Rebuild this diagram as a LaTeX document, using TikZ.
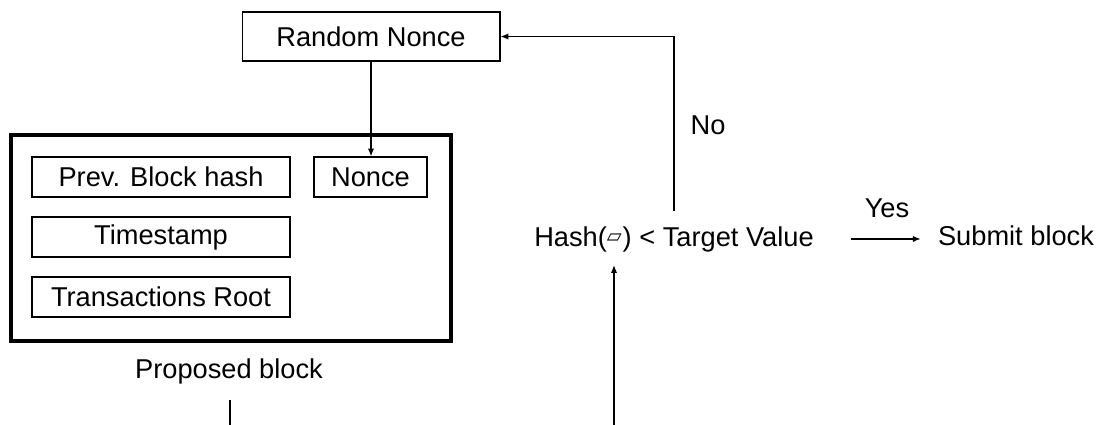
\documentclass[tikz,border=0pt]{standalone}
\usepackage{fontspec}
\setmainfont{Liberation Sans}
\newfontfamily\symfont{DejaVu Sans}
\usetikzlibrary{arrows.meta,calc}

\begin{document}
\begin{tikzpicture}[x=0.02cm, y=-0.02cm,
    every node/.style={font=\fontsize{15.5}{18.6}\selectfont, inner sep=0pt},
    field/.style={draw, line width=0.6pt, minimum width=5.16cm, minimum height=0.8cm},
    link/.style={line width=0.75pt},
    arr/.style={link, -{Latex[length=4.5pt,width=3.6pt]}}]
    \useasboundingbox (0,0) rectangle (1101,424);

    % Nonce source
    \node[field, minimum height=0.98cm] (rnonce) at (371,36.5) {Random Nonce};

    % Proposed block
    \node[draw, line width=2.3pt, minimum width=8.8cm, minimum height=4.12cm] (block) at (231,238) {};
    \node[field] (prev) at (161,177) {Prev. Block hash};
    \node[field, minimum width=2.26cm] (nonce) at (370.5,177) {Nonce};
    \node[field] (stamp) at (161,237) {Timestamp};
    \node[field] (txroot) at (161,297) {Transactions Root};
    \node[anchor=base] (proposed) at (229,378) {Proposed block};

    % Target check
    \node[anchor=base] (hash) at (674,246) {Hash(\raisebox{2.2pt}{\symfont\fontsize{11}{11}\selectfont ▱}\kern0.5pt) < Target Value};
    \node[anchor=base] (submit) at (1016,245) {Submit block};
    \node[anchor=base] (yes) at (887,217) {Yes};
    \node[anchor=base] (no) at (708,134) {No};

    \coordinate (cutA) at (230,430); % cut off below
    \coordinate (cutB) at (614,430);

    \draw[arr] (rnonce.south) -- (rnonce.south |- nonce.north);
    \draw[arr, shorten <=0.3cm] (hash.north) |- (rnonce.east);
    \draw[arr, shorten <=0.74cm, shorten >=0.34cm] (hash.east) -- (hash.east -| submit.west);
    \draw[link, shorten <=0.32cm] (proposed.south -| cutA) -- (cutA);
    \draw[arr] (cutB) -- ([yshift=-0.26cm]hash.south -| cutB);
\end{tikzpicture}
\end{document}
